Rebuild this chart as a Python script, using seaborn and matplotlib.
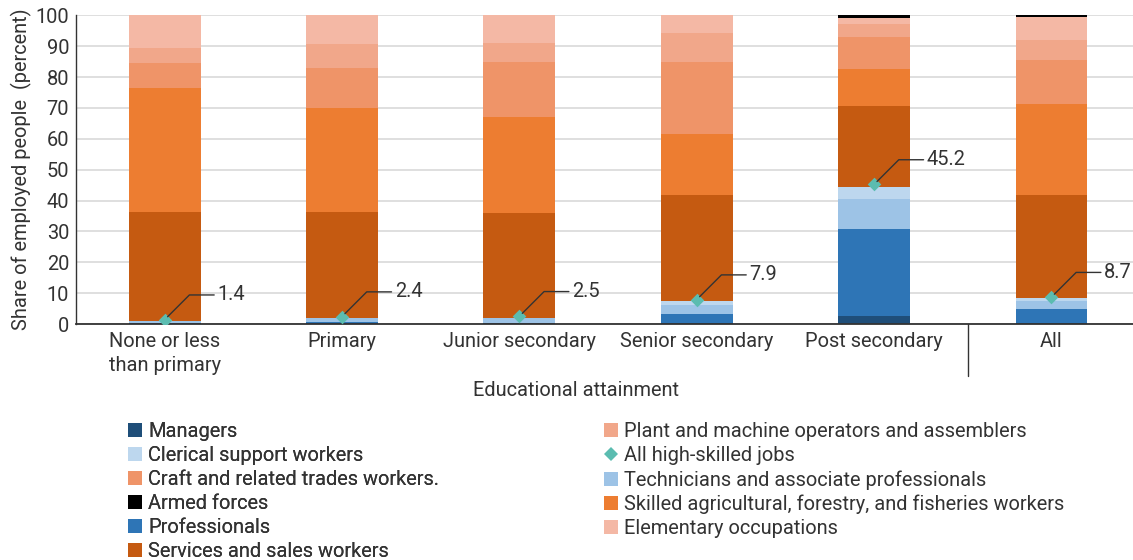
import numpy as np
import matplotlib
matplotlib.use("Agg")
import matplotlib.pyplot as plt
from matplotlib.lines import Line2D
import seaborn as sns

# ── data (share of employed people, percent) ──────────────────────
levels = ["None or less\nthan primary", "Primary", "Junior secondary",
          "Senior secondary", "Post secondary", "All"]

managers      = [0.2, 0.3, 0.2, 0.3, 2.6, 0.4]
professionals = [0.2, 0.4, 0.2, 2.9, 28.2, 4.5]
technicians   = [0.5, 1.2, 1.5, 2.9, 9.7, 2.6]
clerical      = [0.1, 0.1, 0.1, 1.3, 3.9, 1.0]
services      = [35.3, 34.3, 34.0, 34.4, 26.2, 33.3]
skilled_ag    = [40.2, 33.7, 31.1, 19.8, 12.0, 29.5]
craft         = [8.1, 12.9, 17.8, 23.3, 10.4, 14.2]
plant         = [4.8, 7.8, 6.1, 9.3, 4.2, 6.5]
elementary    = [10.6, 9.3, 9.0, 5.8, 1.9, 7.5]
armed         = [0.0, 0.0, 0.0, 0.0, 0.9, 0.5]

high_skilled  = [1.4, 2.4, 2.5, 7.9, 45.2, 8.7]

# ── style ────────────────────────────────────────────────────────
sns.set_theme(style="white")
plt.rcParams["font.family"] = ["Roboto", "DejaVu Sans"]
TEXT = "#333333"
GRID = "#d9d9d9"
TEAL = "#5bbcb0"
FS = 14.4

COLORS = {
    "Managers": "#1f4e79",
    "Professionals": "#2e75b6",
    "Technicians and associate professionals": "#9dc3e6",
    "Clerical support workers": "#bdd7ee",
    "Services and sales workers": "#c55a11",
    "Skilled agricultural, forestry, and fisheries workers": "#ed7d31",
    "Craft and related trades workers.": "#ef9468",
    "Plant and machine operators and assemblers": "#f1a78a",
    "Elementary occupations": "#f4b8a5",
    "Armed forces": "#000000",
}

layers = [
    ("Managers", managers),
    ("Professionals", professionals),
    ("Technicians and associate professionals", technicians),
    ("Clerical support workers", clerical),
    ("Services and sales workers", services),
    ("Skilled agricultural, forestry, and fisheries workers", skilled_ag),
    ("Craft and related trades workers.", craft),
    ("Plant and machine operators and assemblers", plant),
    ("Elementary occupations", elementary),
    ("Armed forces", armed),
]

fig = plt.figure(figsize=(11.33, 5.6), dpi=100)
ax = fig.add_axes([76 / 1133, 1 - 324 / 560, 1057 / 1133, 308.7 / 560])

# stacked bars
bottom = np.zeros(len(levels))
for name, vals in layers:
    sns.barplot(x=levels, y=vals, color=COLORS[name], width=0.405,
                bottom=bottom.copy(), saturation=1, linewidth=0,
                errorbar=None, ax=ax, zorder=2)
    bottom = bottom + np.array(vals)

# high-skilled diamonds
sns.scatterplot(x=levels, y=high_skilled, marker="D", color=TEAL, s=48,
                linewidth=0, ax=ax, zorder=4)

# leader lines + labels
for i, v in enumerate(high_skilled):
    ax.annotate(f"{v}", xy=(i, v), xytext=(38, 17.8), textcoords="offset points",
                ha="left", va="center", fontsize=FS, color=TEXT, zorder=5,
                arrowprops=dict(arrowstyle="-", color=TEXT, lw=1,
                                connectionstyle="angle,angleA=0,angleB=45,rad=0",
                                relpos=(0, 0.5), shrinkA=0, shrinkB=3))

# separator before "All"
ax.plot([4.53, 4.53], [0, -17], color=TEXT, lw=1, clip_on=False)

ax.set_xlim(-0.5, 5.46)
ax.set_ylim(0, 100)
ax.set_yticks(range(0, 101, 10))
ax.set_axisbelow(True)
ax.yaxis.grid(True, color=GRID, lw=1.2)
ax.xaxis.grid(False)
for s in ["top", "right"]:
    ax.spines[s].set_visible(False)
ax.spines["left"].set_color(TEXT)
ax.spines["left"].set_linewidth(1)
ax.spines["bottom"].set_color(TEXT)
ax.spines["bottom"].set_linewidth(1.3)
ax.tick_params(axis="both", length=0, labelsize=FS, colors=TEXT)
ax.tick_params(axis="x", pad=6)
ax.tick_params(axis="y", pad=5)
for lbl in ax.get_xticklabels():
    lbl.set_linespacing(1.3)

ax.set_xlabel("Educational attainment", fontsize=FS, color=TEXT)
ax.xaxis.set_label_coords(0.4726, -0.185)
ax.set_ylabel("Share of employed people  (percent)", fontsize=FS, color=TEXT)
ax.yaxis.set_label_coords(-0.0417, 0.5)

# legend (two columns drawn as two legends)
def sq(name):
    return Line2D([0], [0], marker="s", ms=10, ls="none", color=COLORS[name], mew=0)

col1 = ["Managers", "Clerical support workers", "Craft and related trades workers.",
        "Armed forces", "Professionals", "Services and sales workers"]
col2 = ["Plant and machine operators and assemblers", "All high-skilled jobs",
        "Technicians and associate professionals",
        "Skilled agricultural, forestry, and fisheries workers", "Elementary occupations"]
h1 = [sq(n) for n in col1]
h2 = [Line2D([0], [0], marker="D", ms=7, ls="none", color=TEAL, mew=0)
      if n == "All high-skilled jobs" else sq(n) for n in col2]

leg_kw = dict(loc="upper left", frameon=False, fontsize=FS, handlelength=0.8,
              handletextpad=0.25, labelspacing=0.25, borderpad=0,
              borderaxespad=0, labelcolor=TEXT)
leg1 = fig.legend(h1, col1, bbox_to_anchor=(127 / 1133, 1 - 422 / 560), **leg_kw)
fig.add_artist(leg1)
fig.legend(h2, col2, bbox_to_anchor=(603 / 1133, 1 - 422 / 560), **leg_kw)

fig.savefig("out.png", dpi=100)
